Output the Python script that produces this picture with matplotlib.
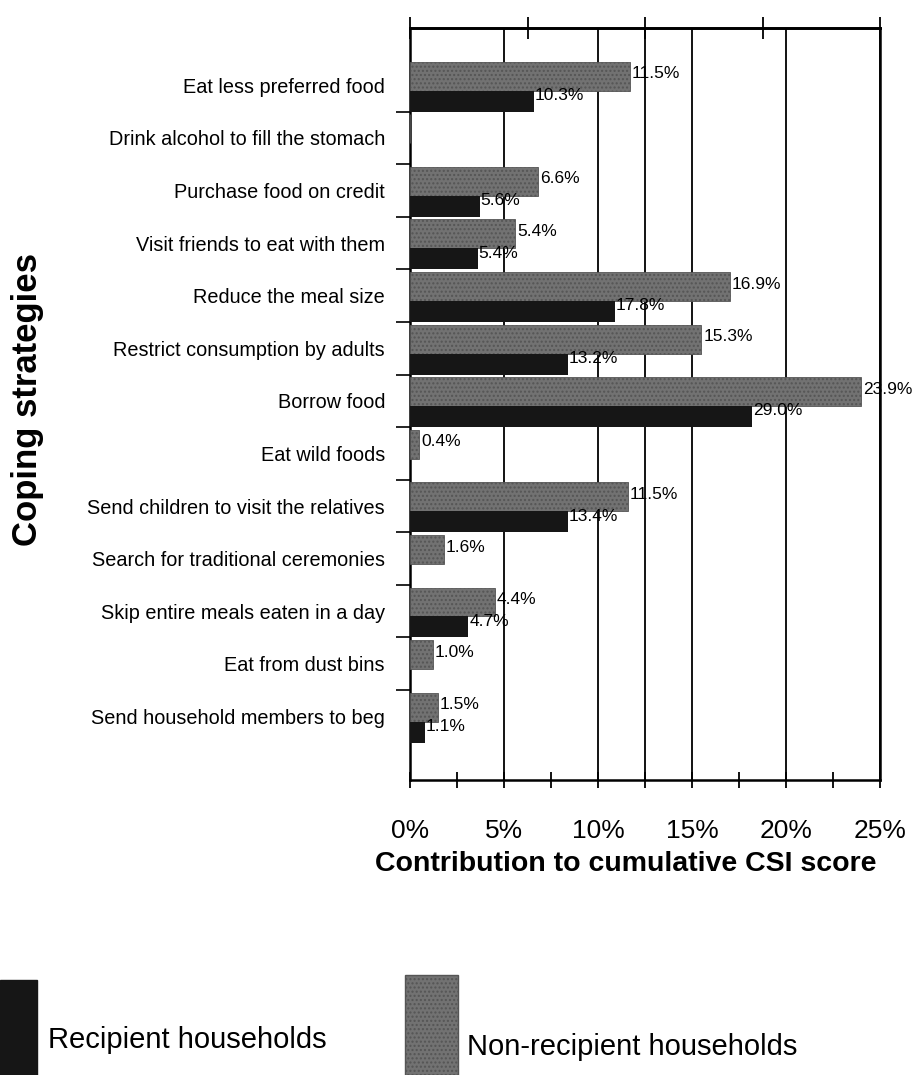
import numpy as np
from matplotlib import pyplot as plt
from matplotlib.patches import Rectangle

plt.rcParams["font.family"] = ["Liberation Sans", "DejaVu Sans"]

STRATEGIE = ["Eat less preferred food", "Drink alcohol to fill the stomach",
             "Purchase food on credit", "Visit friends to eat with them",
             "Reduce the meal size", "Restrict consumption by adults",
             "Borrow food", "Eat wild foods",
             "Send children to visit the relatives",
             "Search for traditional ceremonies",
             "Skip entire meals eaten in a day", "Eat from dust bins",
             "Send household members to beg"]

# bar lengths as drawn in the picture (%)
NON_RECIPIENT = [11.7, 0, 6.8, 5.6, 17.0, 15.5, 24.0, 0.5, 11.6, 1.8, 4.5, 1.2, 1.5]
RECIPIENT = [6.6, 0, 3.7, 3.6, 10.9, 8.4, 18.2, 0, 8.4, 0, 3.1, 0, 0.8]

# labels printed next to the bars
NON_RECIPIENT_LBL = ["11.5%", "", "6.6%", "5.4%", "16.9%", "15.3%", "23.9%",
                     "0.4%", "11.5%", "1.6%", "4.4%", "1.0%", "1.5%"]
RECIPIENT_LBL = ["10.3%", "", "5.6%", "5.4%", "17.8%", "13.2%", "29.0%",
                 "", "13.4%", "", "4.7%", "", "1.1%"]

X_TICKS = [0, 5, 10, 15, 20, 25]
GRIGIO = "#727272"
NERO = "#161616"


def main():
    fig = plt.figure(figsize=(9.23, 10.75), dpi=100)
    ax = fig.add_axes([410 / 923, 1 - 780 / 1075, 470 / 923, 752 / 1075])

    y = np.arange(len(STRATEGIE))
    # grey bar on the upper half, black bar below it
    ax.barh(y - 0.175, NON_RECIPIENT, height=0.55, color=GRIGIO,
            edgecolor="#555555", linewidth=0.6, hatch="....", zorder=3)
    ax.barh(y + 0.30, RECIPIENT, height=0.40, color=NERO, zorder=3)

    for i in y:
        if NON_RECIPIENT_LBL[i]:
            ax.text(NON_RECIPIENT[i] + 0.1, i - 0.22, NON_RECIPIENT_LBL[i],
                    fontsize=12.5, va="center", ha="left", clip_on=False, zorder=4)
        if RECIPIENT_LBL[i]:
            ax.text(RECIPIENT[i] + 0.05, i + 0.19, RECIPIENT_LBL[i],
                    fontsize=12.5, va="center", ha="left", clip_on=False, zorder=4)

    ax.set_xlim(0, 25)
    ax.set_ylim(len(STRATEGIE) - 1 + 1.21, -1.09)

    # grid lines as in the scan
    for g in [5, 10, 12.5, 15, 20, 25]:
        ax.axvline(g, color="black", linewidth=1.3, zorder=1)

    ax.set_xticks(X_TICKS)
    ax.set_xticklabels([f"{v}%" for v in X_TICKS], fontsize=19)
    ax.set_xticks(np.arange(2.5, 25, 5), minor=True)
    ax.tick_params(axis="x", which="both", direction="inout", length=12,
                   width=1.3, pad=22)

    ax.set_yticks(y)
    ax.set_yticklabels(STRATEGIE, fontsize=14.3)
    ax.set_yticks(y[:-1] + 0.5, minor=True)
    ax.tick_params(axis="y", which="major", length=0, pad=18)
    ax.tick_params(axis="y", which="minor", direction="out", length=10, width=1.2)

    top = ax.secondary_xaxis("top")
    top.set_xticks([0, 6.25, 12.5, 18.75, 25])
    top.set_xticklabels([])
    top.tick_params(direction="inout", length=16, width=1.3)
    top.spines["top"].set_linewidth(2)

    for s in ax.spines.values():
        s.set_linewidth(1.8)

    ax.set_xlabel("Contribution to cumulative CSI score", fontsize=20.5,
                  fontweight="bold", labelpad=6)
    ax.xaxis.set_label_coords(0.46, -0.095)

    fig.text(28 / 923, 1 - 400 / 1075, "Coping strategies", rotation=90,
             fontsize=25, fontweight="bold", ha="center", va="center")

    # legend drawn by hand, like the scan
    fig.add_artist(Rectangle((0, 0), 37 / 923, 95 / 1075, color=NERO,
                             transform=fig.transFigure))
    fig.add_artist(Rectangle((405 / 923, 0), 53 / 923, 100 / 1075,
                             facecolor=GRIGIO, edgecolor="#555555",
                             hatch="....", transform=fig.transFigure))
    fig.text(48 / 923, 1 - 1040 / 1075, "Recipient households", fontsize=21,
             va="center", ha="left")
    fig.text(467 / 923, 1 - 1047 / 1075, "Non-recipient households",
             fontsize=21, va="center", ha="left")

    fig.savefig("out.png", dpi=100)


if __name__ == "__main__":
    main()
